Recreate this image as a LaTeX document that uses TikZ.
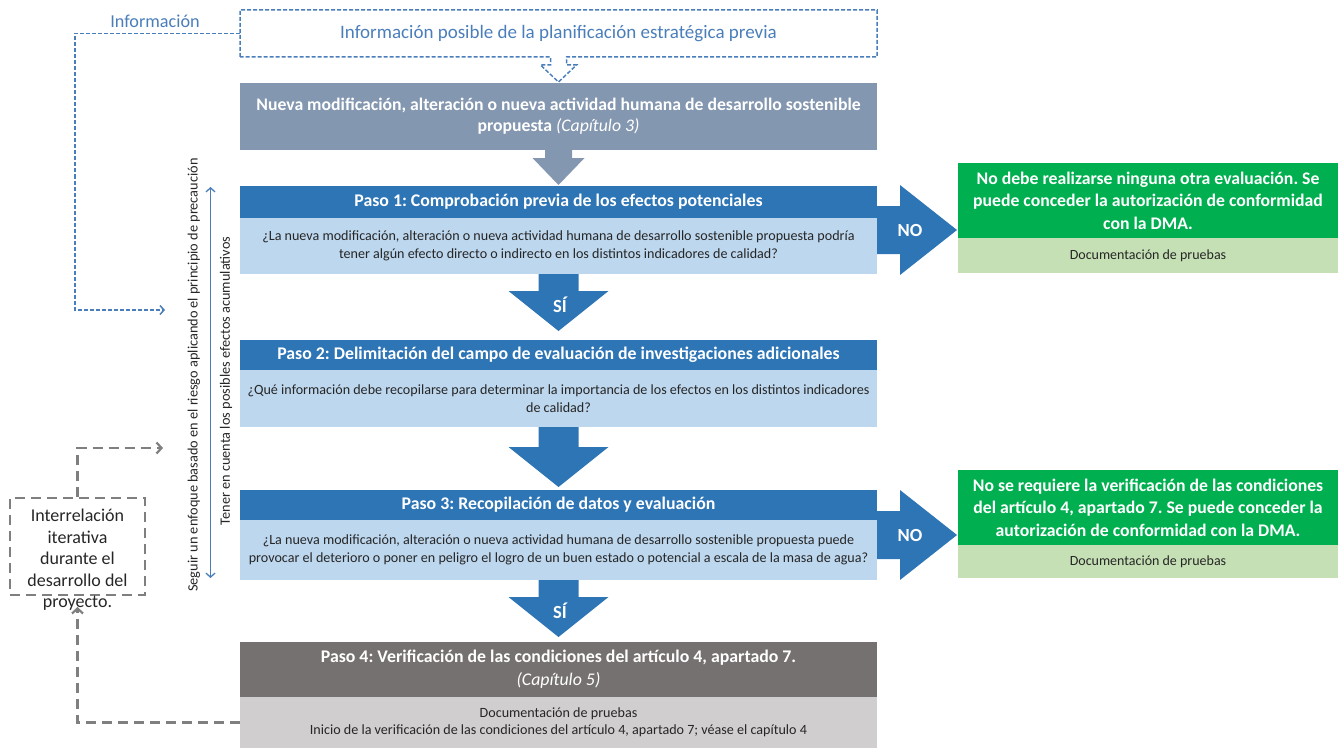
\documentclass[tikz,border=0pt]{standalone}
\usepackage{fontspec}
\setmainfont{Carlito}
\frenchspacing
\usetikzlibrary{calc,arrows.meta}
\definecolor{dblue}{HTML}{2E75B6}
\definecolor{lblue}{HTML}{BDD7EE}
\definecolor{tgray}{HTML}{8497B0}
\definecolor{dgreen}{HTML}{00B050}
\definecolor{lgreen}{HTML}{C5E0B4}
\definecolor{dgray}{HTML}{767171}
\definecolor{lgray}{HTML}{D0CECE}
\definecolor{infoblue}{HTML}{4A7EBB}
\definecolor{dashgray}{HTML}{7F7F7F}
\definecolor{txt}{HTML}{262626}
\newcommand\blockdown[6]{\fill[#1] ($(#2)+(-#5,0)$) -- ($(#2)+(#5,0)$) -- ($(#2)+(#5,#3)$) -- ($(#2)+(#6,#3)$) -- ($(#2)+(0,#4)$) -- ($(#2)+(-#6,#3)$) -- ($(#2)+(-#5,#3)$) -- cycle;}
\newcommand\blockright[6]{\fill[#1] ($(#2)+(0,-#5)$) -- ($(#2)+(#3,-#5)$) -- ($(#2)+(#3,-#6)$) -- ($(#2)+(#4,0)$) -- ($(#2)+(#3,#6)$) -- ($(#2)+(#3,#5)$) -- ($(#2)+(0,#5)$) -- cycle;}
\tikzset{
  box/.style={inner sep=0pt, outer sep=0pt, minimum width=637pt, align=center},
  gbox/.style={inner sep=0pt, outer sep=0pt, minimum width=380pt, align=center},
  hdr/.style={box, fill=dblue, text=white, font=\fontsize{17.8}{21}\selectfont\bfseries},
  body/.style={box, fill=lblue, text=txt, font=\fontsize{14.1}{18.5}\selectfont},
  ghdr/.style={gbox, fill=dgreen, text=white, font=\fontsize{17.7}{22.5}\selectfont\bfseries},
  gbody/.style={gbox, fill=lgreen, text=txt, font=\fontsize{14}{16}\selectfont},
  lbl/.style={text=white, font=\fontsize{18.5}{20}\selectfont\bfseries, inner sep=0pt},
  bdash/.style={draw=infoblue, line width=1.5pt, dash pattern=on 4pt off 2pt},
  gdash/.style={draw=dashgray, line width=2.2pt, dash pattern=on 10pt off 6pt},
  vtxt/.style={rotate=90, text=txt, font=\fontsize{14.3}{16}\selectfont, inner sep=0pt},
}
\begin{document}
\begin{tikzpicture}[x=1pt,y=-1pt]
\useasboundingbox (0,0) rectangle (1343,749);
% top info box
\node[box, minimum height=47pt, text=infoblue, font=\fontsize{19}{22}\selectfont] (info) at (558.5,33.5) {Información posible de la planificación estratégica previa};
\draw[bdash] (info.south west) -- (info.north west) -- (info.north east) -- (info.south east)
  -- ($(info.south)+(8,0)$) -- ($(info.south)+(8,8)$) -- ($(info.south)+(18,8)$) -- ($(info.south)+(0,25)$)
  -- ($(info.south)+(-18,8)$) -- ($(info.south)+(-8,8)$) -- ($(info.south)+(-8,0)$) -- cycle;
\node[text=infoblue, font=\fontsize{18.2}{20}\selectfont, inner sep=0pt] (infolbl) at (155,21) {Información};
\coordinate (infoend) at (165,310);
\draw[bdash, -{Straight Barb[length=4pt,width=9pt]}] (info.west) -- ++(-165,0) |- (infoend);
% gray proposal box
\node[box, fill=tgray, minimum height=67pt, text=white, font=\fontsize{17.7}{21}\selectfont\bfseries] (top) at (558.5,116.5)
  {Nueva modificación, alteración o nueva actividad humana de desarrollo sostenible\\propuesta {\normalfont\itshape(Capítulo 3)}};
% steps
\node[hdr, minimum height=32pt] (s1h) at (558.5,202) {Paso 1: Comprobación previa de los efectos potenciales};
\node[body, minimum height=56pt] (s1b) at (558.5,246) {¿La nueva modificación, alteración o nueva actividad humana de desarrollo sostenible propuesta podría\\tener algún efecto directo o indirecto en los distintos indicadores de calidad?};
\node[hdr, minimum height=30pt] (s2h) at (558.5,355) {Paso 2: Delimitación del campo de evaluación de investigaciones adicionales};
\node[body, minimum height=57pt] (s2b) at (558.5,398.5) {¿Qué información debe recopilarse para determinar la importancia de los efectos en los distintos indicadores\\de calidad?};
\node[hdr, minimum height=30pt] (s3h) at (558.5,505) {Paso 3: Recopilación de datos y evaluación};
\node[body, minimum height=60pt] (s3b) at (558.5,550) {¿La nueva modificación, alteración o nueva actividad humana de desarrollo sostenible propuesta puede\\provocar el deterioro o poner en peligro el logro de un buen estado o potencial a escala de la masa de agua?};
\node[hdr, fill=dgray, minimum height=55pt, font=\fontsize{17.8}{23}\selectfont\bfseries] (s4h) at (558.5,669.5) {Paso 4: Verificación de las condiciones del artículo 4, apartado 7.\\{\normalfont\itshape(Capítulo 5)}};
\node[body, fill=lgray, minimum height=51pt, font=\fontsize{14.1}{17}\selectfont] (s4b) at (558.5,722.5) {Documentación de pruebas\\Inicio de la verificación de las condiciones del artículo 4, apartado 7; véase el capítulo 4};
% green outcome boxes
\node[ghdr, minimum height=75pt] (g1h) at (1148,200.5) {No debe realizarse ninguna otra evaluación. Se\\puede conceder la autorización de conformidad\\con la DMA.};
\node[gbody, minimum height=35pt] (g1b) at (1148,255.5) {Documentación de pruebas};
\node[ghdr, minimum height=75pt] (g2h) at (1148,507.5) {No se requiere la verificación de las condiciones\\del artículo 4, apartado 7. Se puede conceder la\\autorización de conformidad con la DMA.};
\node[gbody, minimum height=33pt] (g2b) at (1148,561.5) {Documentación de pruebas};
% block arrows
\blockdown{tgray}{top.south}{8}{35}{13.5}{26}
\blockdown{dblue}{s1b.south}{17}{57}{20}{50}
\blockdown{dblue}{s2b.south}{20}{60}{20}{50}
\blockdown{dblue}{s3b.south}{17}{57}{20}{50}
\coordinate (no1s) at ($(s1h.north east)!0.5!(s1b.south east)$);
\coordinate (no2s) at ($(s3h.north east)!0.5!(s3b.south east)$);
\blockright{dblue}{no1s}{23}{80}{24}{45}
\blockright{dblue}{no2s}{23}{80}{24}{45}
\node[lbl] (si1) at (560,305) {SÍ};
\node[lbl] (si2) at (560,611) {SÍ};
\node[lbl] (no1) at (910,230) {NO};
\node[lbl] (no2) at (910,535) {NO};
% vertical texts and arrow
\node[vtxt] (v1) at (194,375) {Seguir un enfoque basado en el riesgo aplicando el principio de precaución};
\node[vtxt] (v2) at (226,381) {Tener en cuenta los posibles efectos acumulativos};
\coordinate (va) at (210.5,187);
\coordinate (vb) at (210.5,578);
\draw[draw=infoblue, line width=1.3pt, {Straight Barb[length=4pt,width=9pt]}-{Straight Barb[length=4pt,width=9pt]}] (vb) -- (va);
% iterative box
\node[gdash, inner sep=0pt, minimum width=135pt, minimum height=97pt] (iter) at (77.5,546.5) {};
\node[text=txt, align=center, font=\fontsize{18}{21.5}\selectfont, inner sep=0pt] (itertxt) at (77.5,560) {Interrelación\\iterativa\\durante el\\desarrollo del\\proyecto.};
\coordinate (iterend) at (163,448);
\coordinate (iterin) at (77.5,607);
\draw[gdash, -{Straight Barb[length=5pt,width=11pt]}] (iter.north) |- (iterend);
\draw[gdash, -{Straight Barb[length=5pt,width=11pt]}] (s4b.west) -| (iterin);
\end{tikzpicture}
\end{document}
